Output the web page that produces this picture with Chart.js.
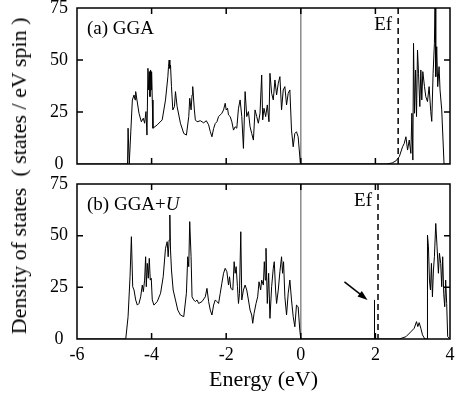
<!DOCTYPE html>
<html lang="en">
<head>
<meta charset="UTF-8">
<title>Density of states: GGA and GGA+U</title>
<script src="https://cdn.jsdelivr.net/npm/chart.js"></script>
<style>
  body { margin: 0; background: #fff; }
  #wrap { position: relative; width: 455px; height: 398px; overflow: hidden; font-family: 'Liberation Serif', 'Times New Roman', serif; }
  #topChart { position: absolute; left: 0; top: -12px; }
  #bottomChart { position: absolute; left: 0; top: 164px; }
  #ylabel { position: absolute; left: 19px; top: 176px; transform: translate(-50%, -50%) rotate(-90deg);
            white-space: pre; font-size: 22px; line-height: 1; color: #000; }
</style>
</head>
<body>
<div id="wrap">
  <canvas id="topChart" width="455" height="196"></canvas>
  <canvas id="bottomChart" width="455" height="234"></canvas>
  <div id="ylabel">Density of states  ( states / eV spin )</div>
</div>

<script>
// ---- data ----
const energyTicks = [-6, -4, -2, 0, 2, 4];
const dosTicks = [0, 25, 50, 75];

// (a) GGA
const ggaEnergy = [-6, -4.645, -4.631, -4.60, -4.58, -4.516, -4.471, -4.444, -4.427, -4.338, -4.275, -4.222, -4.187, -4.151, -4.124,
  -4.098, -4.08, -4.062, -4.044, -4.027, -4.009, -4.0, -3.982, -3.964, -3.849, -3.716, -3.627, -3.564, -3.547, -3.529, -3.511,
  -3.493, -3.467, -3.431, -3.387, -3.36, -3.316, -3.227, -3.138, -3.067, -3.004, -2.978, -2.942, -2.916, -2.898, -2.853, -2.827,
  -2.782, -2.693, -2.604, -2.533, -2.471, -2.427, -2.382, -2.338, -2.293, -2.249, -2.204, -2.16, -2.116, -2.071, -2.027, -2.0,
  -1.964, -1.938, -1.893, -1.849, -1.804, -1.76, -1.716, -1.671, -1.627, -1.582, -1.538, -1.493, -1.449, -1.404, -1.36, -1.316,
  -1.271, -1.227, -1.182, -1.138, -1.093, -1.049, -1.022, -0.987, -0.942, -0.898, -0.853, -0.827, -0.782, -0.738, -0.693, -0.649,
  -0.604, -0.56, -0.516, -0.471, -0.427, -0.382, -0.338, -0.293, -0.249, -0.204, -0.16, -0.116, -0.071, -0.01,
  2.3, 2.45, 2.55, 2.64, 2.729, 2.773, 2.818, 2.862, 2.907, 2.951, 2.978, 3.004, 3.022, 3.049, 3.076, 3.102, 3.129, 3.156, 3.191,
  3.218, 3.244, 3.271, 3.316, 3.351, 3.396, 3.44, 3.484, 3.511, 3.547, 3.582, 3.6, 3.618, 3.644, 3.671, 3.707, 3.733, 3.778, 3.84, 4];
const ggaDos = [0, 0, 17.2, 0, 0, 30.8, 33.2, 30.8, 34.8, 24.4, 20.3, 22.0, 19.6, 25.2, 13.9,
  46.0, 35.6, 44.4, 32.4, 45.2, 35.6, 44.4, 30.8, 17.2, 18.8, 21.2, 30.8, 42, 46.8, 50, 46,
  47.6, 37.2, 26, 27.6, 34.8, 27.6, 19.6, 14.7, 13.9, 22.8, 31.6, 26, 33.2, 37.2, 26, 21.2,
  20.3, 20.8, 19.8, 20.8, 18.8, 15.6, 13.1, 17, 19.5, 20.3, 22.8, 23.6, 24.4, 26, 29.2, 26,
  26.8, 23.6, 22.8, 20.3, 16.3, 17.9, 17.2, 26.8, 30.8, 22.8, 7.5, 34.8, 22.8, 25.2, 17.9, 14.7,
  11.5, 26, 22.8, 19.6, 24.4, 42.8, 21.2, 26.8, 22.8, 28.4, 20.3, 43.6, 34, 30.8, 40.4, 33.2,
  38.8, 42, 26, 35.6, 37.2, 28.4, 34, 35.6, 16.3, 8.3, 14.7, 15.5, 13.1, 0,
  0, 0.5, 1.5, 3.5, 8.3, 9.9, 13.1, 6.7, 11.5, 5.1, 24.4, 1.9, 58, 24.4, 45.2, 22.8, 54.8, 43.6, 27.6,
  45.2, 30.8, 44.4, 37.2, 32.4, 30, 37.2, 25.2, 20.5, 43.6, 58, 80, 42, 56.4, 37.2, 46.8, 35.6, 26, 0, 0];

// (b) GGA+U
const ggauEnergy = [-6, -4.693, -4.631, -4.578, -4.542, -4.507, -4.471, -4.427, -4.382, -4.338, -4.293, -4.249, -4.222, -4.187,
  -4.16, -4.142, -4.116, -4.089, -4.062, -4.036, -4.009, -3.982, -3.938, -3.849, -3.76, -3.689, -3.627, -3.582, -3.556, -3.529,
  -3.511, -3.493, -3.467, -3.422, -3.36, -3.298, -3.227, -3.138, -3.067, -3.031, -3.004, -2.978, -2.942, -2.916, -2.871, -2.827,
  -2.782, -2.738, -2.649, -2.56, -2.516, -2.471, -2.427, -2.382, -2.338, -2.293, -2.249, -2.204, -2.16, -2.116, -2.071, -2.027,
  -1.982, -1.938, -1.911, -1.876, -1.822, -1.787, -1.76, -1.733, -1.698, -1.671, -1.644, -1.609, -1.582, -1.538, -1.493, -1.449,
  -1.404, -1.36, -1.316, -1.289, -1.253, -1.2, -1.156, -1.12, -1.076, -1.049, -1.004, -0.978, -0.951, -0.933, -0.898, -0.862,
  -0.827, -0.782, -0.738, -0.711, -0.676, -0.649, -0.604, -0.56, -0.516, -0.489, -0.462, -0.427, -0.382, -0.338, -0.293, -0.249,
  -0.204, -0.16, -0.116, -0.071, -0.027, 0,
  1.965, 1.972, 1.98, 2.64, 2.818, 2.951, 3.04, 3.102, 3.138, 3.173, 3.218, 3.262, 3.324, 3.385, 3.396, 3.422, 3.449, 3.476,
  3.502, 3.529, 3.556, 3.582, 3.618, 3.653, 3.689, 3.716, 3.751, 3.778, 3.804, 3.831, 3.858, 3.884, 3.911, 3.938, 4];
const ggauDos = [0, 0, 10.8, 30.1, 49.5, 25.3, 23.7, 18.9, 16.4, 17.2, 20.4, 26.1, 22.9, 28.5,
  39.8, 25.3, 36.6, 29.4, 39.0, 28.5, 29.4, 18.9, 16.4, 18.1, 22.1, 30.1, 43.9, 47.1, 39.8, 47.9,
  60, 43.1, 33.4, 23.7, 18.9, 14, 11.6, 10.8, 22.1, 39.8, 35, 56.8, 39.8, 20.4, 18.9, 18.1,
  18.9, 17.2, 18.1, 20.4, 24.5, 18.1, 14, 11.6, 16.4, 18.9, 18.1, 17.2, 22.1, 27, 31.8, 34.2,
  32.6, 26.1, 30.1, 24.5, 23.7, 37.4, 31.8, 35, 25.3, 17.2, 22.1, 51.9, 18.9, 23.7, 26.1, 23.7,
  18.9, 14, 11.6, 7.6, 12.4, 17.2, 20.4, 27.7, 23.7, 28.5, 26.1, 37.4, 28.5, 43.9, 17.2, 31.8,
  10, 25.3, 34.2, 37.4, 23.7, 17.2, 23.7, 32.6, 39.8, 31.8, 37.4, 20.4, 11.6, 22.1, 28.5, 18.9,
  10.8, 5.9, 16.4, 15.6, 4.3, 0,
  0, 18.9, 0, 0, 1.1, 3.5, 5.2, 8.4, 6, 7.9, 5.2, 2, 0, 0, 50.3, 44.6, 28.5, 23.7,
  36.6, 20.4, 33.4, 39.8, 55.9, 44.6, 31.8, 41.5, 36.6, 25.3, 39.8, 22.1, 15.6, 28.5, 17.2, 1.2, 0];

const ggaFermi = 2.61;
const ggauFermi = 2.07;
// arrow pointing at the gap state: [energy, dos] tail and head
const arrowTail = [1.17, 27.6];
const arrowHead = [1.79, 18.9];

const serif = "'Liberation Serif', 'Times New Roman', serif";

function panelPlugin(cfg) {
  return {
    id: 'panel',
    beforeDatasetsDraw(chart) {
      const { ctx, chartArea: a, scales: { x } } = chart;
      const x0 = x.getPixelForValue(0);
      ctx.save();
      ctx.strokeStyle = '#8a8a8a';
      ctx.lineWidth = 1.5;
      ctx.beginPath();
      ctx.moveTo(x0, a.top);
      ctx.lineTo(x0, a.bottom);
      ctx.stroke();
      ctx.restore();
    },
    afterDatasetsDraw(chart) {
      const { ctx, chartArea: a, scales: { x, y } } = chart;
      ctx.save();
      ctx.strokeStyle = '#000';
      ctx.fillStyle = '#000';

      // fermi level
      const xf = x.getPixelForValue(cfg.fermi);
      ctx.lineWidth = 1.5;
      ctx.setLineDash([6, 4]);
      ctx.beginPath();
      ctx.moveTo(xf, a.top);
      ctx.lineTo(xf, a.bottom);
      ctx.stroke();
      ctx.setLineDash([]);

      // frame + inward ticks
      ctx.strokeRect(a.left, a.top, a.right - a.left, a.bottom - a.top);
      ctx.beginPath();
      energyTicks.slice(1, -1).forEach(v => {
        const px = x.getPixelForValue(v);
        ctx.moveTo(px, a.bottom); ctx.lineTo(px, a.bottom - 6);
        ctx.moveTo(px, a.top); ctx.lineTo(px, a.top + 6);
      });
      dosTicks.slice(1, -1).forEach(v => {
        const py = y.getPixelForValue(v);
        ctx.moveTo(a.left, py); ctx.lineTo(a.left + 6, py);
        ctx.moveTo(a.right, py); ctx.lineTo(a.right - 6, py);
      });
      ctx.stroke();

      // labels
      ctx.font = '19px ' + serif;
      ctx.textBaseline = 'middle';
      ctx.textAlign = 'right';
      ctx.fillText('Ef', xf - 6, a.top + 17);
      ctx.textAlign = 'left';
      let lx = a.left + 10;
      const ly = a.top + 21;
      ctx.fillText(cfg.label, lx, ly);
      if (cfg.labelItalic) {
        lx += ctx.measureText(cfg.label).width;
        ctx.font = 'italic 19px ' + serif;
        ctx.fillText(cfg.labelItalic, lx, ly);
      }

      // arrow
      if (cfg.arrow) {
        const x1 = x.getPixelForValue(cfg.arrow[0][0]), y1 = y.getPixelForValue(cfg.arrow[0][1]);
        const x2 = x.getPixelForValue(cfg.arrow[1][0]), y2 = y.getPixelForValue(cfg.arrow[1][1]);
        const ang = Math.atan2(y2 - y1, x2 - x1);
        ctx.lineWidth = 1.5;
        ctx.beginPath();
        ctx.moveTo(x1, y1);
        ctx.lineTo(x2 - 7 * Math.cos(ang), y2 - 7 * Math.sin(ang));
        ctx.stroke();
        ctx.beginPath();
        ctx.moveTo(x2, y2);
        ctx.lineTo(x2 - 10 * Math.cos(ang) + 3.5 * Math.sin(ang), y2 - 10 * Math.sin(ang) - 3.5 * Math.cos(ang));
        ctx.lineTo(x2 - 10 * Math.cos(ang) - 3.5 * Math.sin(ang), y2 - 10 * Math.sin(ang) + 3.5 * Math.cos(ang));
        ctx.closePath();
        ctx.fill();
      }
      ctx.restore();
    }
  };
}

function makeChart(id, energy, dos, cfg, isBottom) {
  const points = energy.map((e, i) => ({ x: e, y: dos[i] }));
  return new Chart(document.getElementById(id), {
    type: 'line',
    data: {
      datasets: [{
        data: points,
        borderColor: '#000',
        borderWidth: 1,
        pointRadius: 0,
        tension: 0,
        fill: false
      }]
    },
    options: {
      responsive: false,
      animation: false,
      events: [],
      // y tick labels already reserve ~20px above and below the plot
      layout: { padding: { top: 20, right: 5, bottom: isBottom ? 0 : 20, left: 0 } },
      plugins: { legend: { display: false }, tooltip: { enabled: false } },
      scales: {
        x: {
          type: 'linear', min: -6, max: 4, display: isBottom,
          grid: { display: false, drawTicks: false },
          border: { display: false },
          afterBuildTicks: s => { s.ticks = energyTicks.map(v => ({ value: v })); },
          ticks: { font: { family: serif, size: 18 }, color: '#000', padding: 5, maxRotation: 0,
                   callback: v => String(v) },
          title: { display: isBottom, text: 'Energy (eV)', font: { family: serif, size: 22 }, color: '#000',
                   padding: { top: 0, bottom: 5 } },
          afterFit: s => {
            s.height = isBottom ? 59 : 0;
            // keep both panels the same width: end labels may overhang
            s.paddingLeft = 0;
            s.paddingRight = 0;
          }
        },
        y: {
          min: 0, max: 75,
          grid: { display: false, drawTicks: false },
          border: { display: false },
          afterBuildTicks: s => { s.ticks = dosTicks.map(v => ({ value: v })); },
          ticks: { font: { family: serif, size: 18 }, color: '#000', padding: 9, crossAlign: 'center' },
          afterFit: s => { s.width = 77; }
        }
      }
    },
    plugins: [panelPlugin(cfg)]
  });
}

makeChart('topChart', ggaEnergy, ggaDos, { fermi: ggaFermi, label: '(a) GGA' }, false);
makeChart('bottomChart', ggauEnergy, ggauDos,
  { fermi: ggauFermi, label: '(b) GGA+', labelItalic: 'U', arrow: [arrowTail, arrowHead] }, true);
</script>
</body>
</html>
